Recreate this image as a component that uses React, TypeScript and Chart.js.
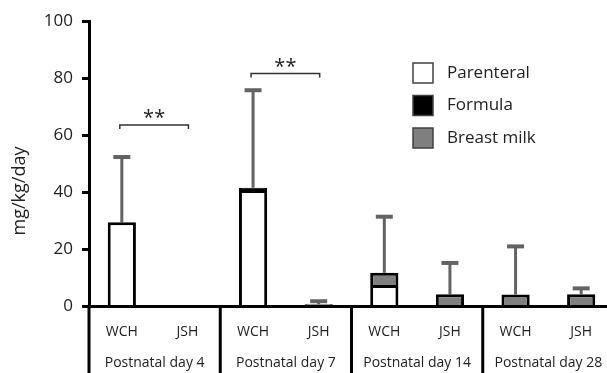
import React, { useEffect, useRef } from "react";
import { Chart, registerables } from "chart.js";

Chart.register(...registerables);

const categories = ["WCH", "JSH", "WCH", "JSH", "WCH", "JSH", "WCH", "JSH"];
const groupLabels = ["Postnatal day 4", "Postnatal day 7", "Postnatal day 14", "Postnatal day 28"];
const seriesNames = ["Parenteral", "Formula", "Breast milk"];
const parenteral = [29.5, 0, 40.8, 0, 7.5, 0, 0, 0];
const formula = [0, 0, 0.8, 0.5, 0, 0, 0, 0];
const breastMilk = [0, 0, 0, 0.3, 4.3, 4.3, 4.2, 4.3];
const errorTop = [52.7, 0, 76.1, 2.2, 31.8, 15.6, 21.4, 6.7];
const sigLeft = [0, 2];
const sigRight = [1, 3];
const sigLevel = [63.6, 81.6];
const sigText = ["**", "**"];
const yMin = 0;
const yMax = 100;
const yStep = 20;

const FONT = "'Open Sans', sans-serif";
const TEXT = "#222222";
const fills = ["#ffffff", "#000000", "#7f7f7f"];

const nz = (a: number[]) => a.map((v) => (v === 0 ? null : v));

const extras = {
  id: "extras",
  beforeDatasetsDraw(chart: any) {
    const { ctx, scales } = chart;
    const x = scales.x;
    const y = scales.y;
    ctx.save();
    ctx.strokeStyle = "#636363";
    for (let i = 0; i < categories.length; i++) {
      if (!errorTop[i]) continue;
      const total = parenteral[i] + formula[i] + breastMilk[i];
      const px = x.getPixelForValue(i);
      const y0 = y.getPixelForValue(total);
      const y1 = y.getPixelForValue(errorTop[i]);
      ctx.lineWidth = 3;
      ctx.beginPath();
      ctx.moveTo(px, y0);
      ctx.lineTo(px, y1);
      ctx.stroke();
      ctx.lineWidth = 4;
      ctx.beginPath();
      ctx.moveTo(px - 8.5, y1 + 1);
      ctx.lineTo(px + 8.5, y1 + 1);
      ctx.stroke();
    }
    ctx.restore();
  },
  afterDraw(chart: any) {
    const { ctx, scales, chartArea } = chart;
    const x = scales.x;
    const y = scales.y;
    const H = chart.height;
    ctx.save();
    // group separators
    ctx.strokeStyle = "#000";
    ctx.lineWidth = 3;
    const bounds: number[] = [chartArea.left];
    for (let g = 1; g < groupLabels.length; g++) {
      bounds.push((x.getPixelForValue(2 * g - 1) + x.getPixelForValue(2 * g)) / 2);
    }
    bounds.forEach((bx) => {
      ctx.beginPath();
      ctx.moveTo(bx, chartArea.bottom);
      ctx.lineTo(bx, H);
      ctx.stroke();
    });
    // group labels
    ctx.fillStyle = TEXT;
    ctx.font = `14px ${FONT}`;
    ctx.textAlign = "center";
    ctx.textBaseline = "middle";
    groupLabels.forEach((lab, g) => {
      const cx = (x.getPixelForValue(2 * g) + x.getPixelForValue(2 * g + 1)) / 2;
      ctx.fillText(lab, cx, 363);
    });
    // y title
    ctx.save();
    ctx.translate(20, 191);
    ctx.rotate(-Math.PI / 2);
    ctx.font = `18px ${FONT}`;
    ctx.textAlign = "center";
    ctx.textBaseline = "middle";
    ctx.fillText("mg/kg/day", 0, 0);
    ctx.restore();
    // significance brackets
    ctx.strokeStyle = "#333";
    ctx.lineWidth = 1.5;
    for (let k = 0; k < sigLeft.length; k++) {
      const xa = x.getPixelForValue(sigLeft[k]) - 2;
      const xb = x.getPixelForValue(sigRight[k]) + 1;
      const yy = y.getPixelForValue(sigLevel[k]);
      ctx.beginPath();
      ctx.moveTo(xa, yy + 4);
      ctx.lineTo(xa, yy);
      ctx.lineTo(xb, yy);
      ctx.lineTo(xb, yy + 4);
      ctx.stroke();
      ctx.font = `20px ${FONT}`;
      ctx.textAlign = "center";
      ctx.textBaseline = "alphabetic";
      ctx.fillStyle = TEXT;
      ctx.fillText(sigText[k], (xa + xb) / 2, yy - 1);
    }
    // legend
    const lx = 413;
    const ly = [63, 95.5, 128];
    chart.data.datasets.forEach((ds: any, i: number) => {
      ctx.fillStyle = fills[i];
      ctx.fillRect(lx, ly[i], 20, 20);
      ctx.strokeStyle = "#404040";
      ctx.lineWidth = 1.5;
      ctx.strokeRect(lx, ly[i], 20, 20);
      ctx.fillStyle = TEXT;
      ctx.font = `17px ${FONT}`;
      ctx.textAlign = "left";
      ctx.textBaseline = "middle";
      ctx.fillText(ds.label, 447, ly[i] + 10);
    });
    ctx.restore();
  },
};

export default function App() {
  const ref = useRef<HTMLCanvasElement | null>(null);
  useEffect(() => {
    if (!ref.current) return;
    const chart = new Chart(ref.current, {
      type: "bar",
      data: {
        labels: categories,
        datasets: [parenteral, formula, breastMilk].map((arr, i) => ({
          label: seriesNames[i],
          data: nz(arr),
          backgroundColor: fills[i],
          borderColor: "#000",
          borderWidth: 3,
          barPercentage: 0.43,
          categoryPercentage: 1,
        })),
      },
      options: {
        animation: false,
        responsive: false,
        layout: { padding: { top: 21, left: 0, right: 0, bottom: 0 } },
        plugins: { legend: { display: false }, tooltip: { enabled: false } },
        scales: {
          x: {
            stacked: true,
            grid: { display: false },
            border: { display: true, color: "#000", width: 3 },
            ticks: { color: TEXT, font: { family: FONT, size: 14 }, padding: 9, maxRotation: 0 },
            afterFit: (s: any) => {
              s.height = 66.5;
            },
          },
          y: {
            stacked: true,
            min: yMin,
            max: yMax,
            ticks: { stepSize: yStep, color: TEXT, font: { family: FONT, size: 17 }, padding: 9 },
            grid: { drawOnChartArea: false, color: "#000", lineWidth: 3, tickLength: 7 },
            border: { display: true, color: "#000", width: 3 },
            afterFit: (s: any) => {
              s.width = 89;
            },
          },
        },
      },
      plugins: [extras],
    });
    return () => chart.destroy();
  }, []);
  return (
    <div style={{ position: "fixed", left: 0, top: 0, width: 607, height: 373, overflow: "hidden", background: "#fff" }}>
      <canvas ref={ref} width={614} height={373} style={{ display: "block" }} />
    </div>
  );
}
